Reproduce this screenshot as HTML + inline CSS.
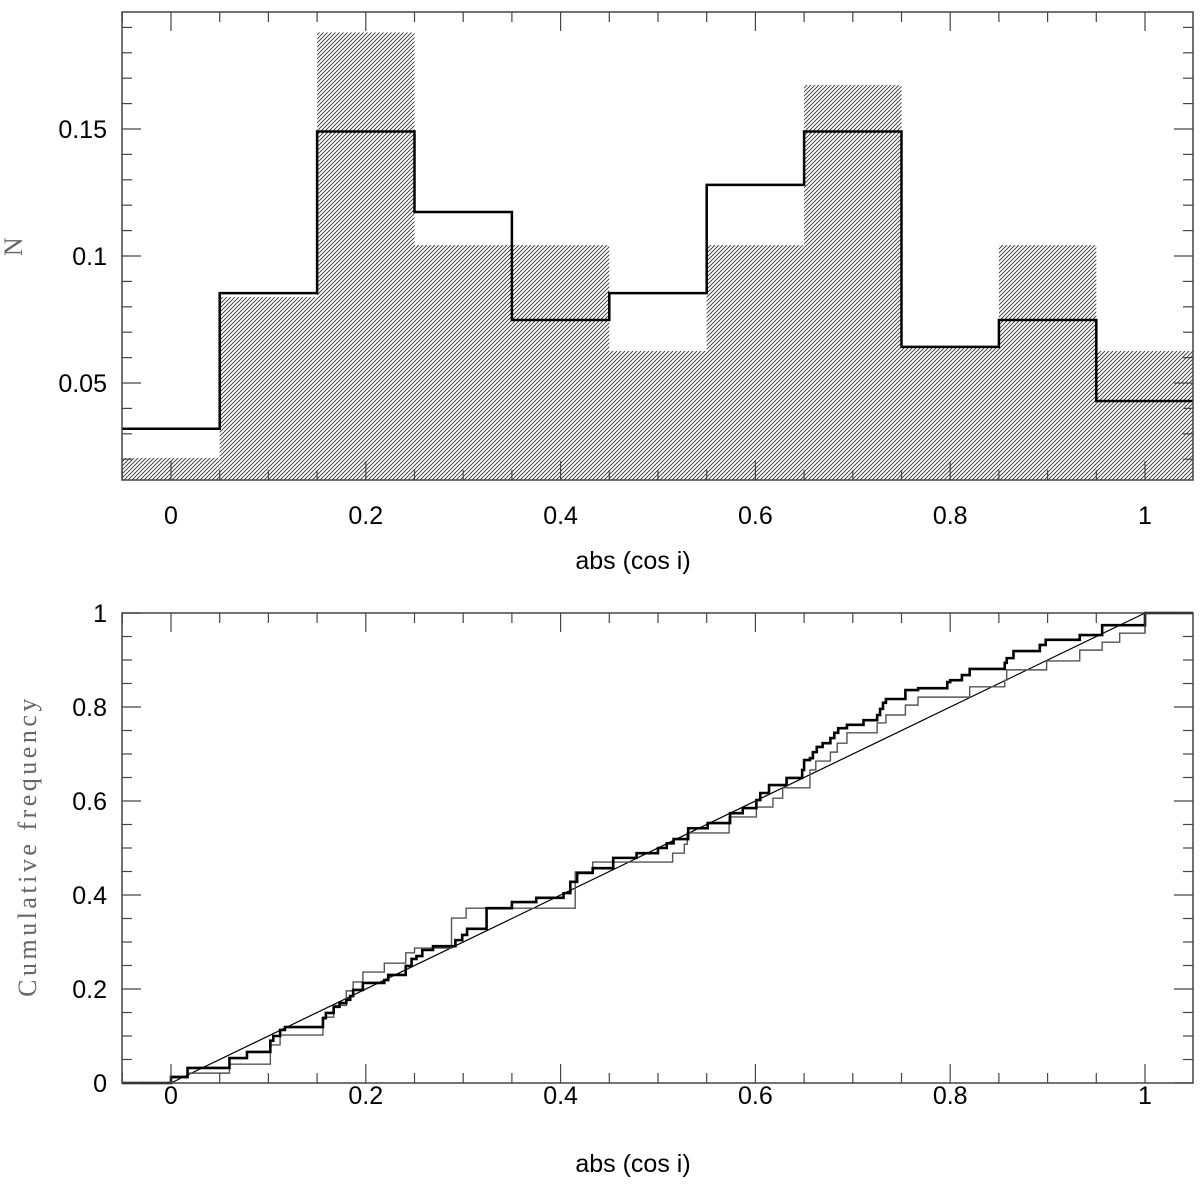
<!DOCTYPE html>
<html><head><meta charset="utf-8"><style>
html,body{margin:0;padding:0;background:#fff;width:1200px;height:1184px;overflow:hidden}
svg{display:block}
text{font-family:"Liberation Sans",sans-serif;font-size:25px;fill:#000}
.serif{font-family:"Liberation Serif",serif;fill:#666;font-size:26px;letter-spacing:3.5px}
</style></head><body>
<svg id="chart" width="1200" height="1184" xmlns="http://www.w3.org/2000/svg">
<defs><pattern id="hatch" patternUnits="userSpaceOnUse" width="4" height="4">
<path d="M-1,1 l2,-2 M0,4 l4,-4 M3,5 l2,-2" stroke="#333" stroke-width="0.9"/></pattern></defs>
</svg>
<script>
// Histogram data
const binCenters=[0,0.1,0.2,0.3,0.4,0.5,0.6,0.7,0.8,0.9,1.0];
const lineValues=[0.032,0.0854,0.149,0.1173,0.0748,0.0854,0.128,0.149,0.0642,0.0748,0.0429];
const hatchValues=[0.0205,0.0838,0.188,0.1043,0.1043,0.0626,0.1043,0.1673,0.0642,0.1043,0.0626];
const topYTicks=["0.05","0.1","0.15"];
const xTickLabels=["0","0.2","0.4","0.6","0.8","1"];
const botYTicks=["0","0.2","0.4","0.6","0.8","1"];
// Cumulative data
const thickX=[0,0.017,0.060,0.078,0.102,0.105,0.112,0.117,0.156,0.159,0.167,0.173,0.180,0.184,0.187,0.197,0.219,0.223,0.241,0.247,0.252,0.258,0.269,0.292,0.299,0.304,0.324,0.350,0.375,0.403,0.410,0.417,0.433,0.454,0.478,0.500,0.509,0.516,0.531,0.551,0.574,0.587,0.601,0.605,0.614,0.632,0.648,0.650,0.656,0.659,0.663,0.669,0.677,0.681,0.685,0.694,0.711,0.725,0.728,0.731,0.734,0.754,0.767,0.797,0.800,0.812,0.820,0.856,0.858,0.865,0.892,0.898,0.933,0.956,1.0];
const thickY=[0.013,0.032,0.053,0.066,0.090,0.100,0.113,0.119,0.138,0.149,0.162,0.170,0.177,0.185,0.198,0.213,0.219,0.230,0.249,0.264,0.270,0.283,0.291,0.304,0.315,0.328,0.372,0.385,0.394,0.404,0.428,0.447,0.457,0.479,0.489,0.500,0.510,0.519,0.542,0.553,0.574,0.585,0.602,0.617,0.634,0.649,0.666,0.687,0.691,0.704,0.715,0.723,0.734,0.745,0.755,0.762,0.772,0.783,0.796,0.809,0.817,0.836,0.840,0.853,0.857,0.868,0.881,0.894,0.904,0.919,0.932,0.943,0.953,0.974,1.0];
const thinX=[0,0.017,0.060,0.102,0.112,0.156,0.167,0.180,0.187,0.197,0.219,0.241,0.250,0.288,0.303,0.415,0.433,0.515,0.527,0.530,0.573,0.601,0.618,0.628,0.656,0.662,0.677,0.684,0.694,0.725,0.734,0.754,0.767,0.820,0.856,0.858,0.899,0.933,0.956,0.974,1.0];
const thinY=[0.011,0.021,0.040,0.081,0.102,0.140,0.165,0.196,0.215,0.236,0.255,0.277,0.287,0.351,0.372,0.449,0.470,0.489,0.508,0.532,0.566,0.587,0.606,0.628,0.666,0.685,0.704,0.723,0.745,0.766,0.783,0.804,0.821,0.843,0.857,0.879,0.898,0.921,0.938,0.957,1.0];

const svg=document.getElementById('chart');
const NS='http://www.w3.org/2000/svg';
function mk(tag,attrs,parent){const e=document.createElementNS(NS,tag);for(const k in attrs)e.setAttribute(k,attrs[k]);(parent||svg).appendChild(e);return e;}
const L=122,R=1193;
const sx=v=>171+974*v;
const T1=12,B1=480; const sy1=v=>129-(v-0.15)*2540;
const T2=613,B2=1083; const sy2=v=>1083-470*v;

// ---- top panel ----
const g1=mk('g',{});


binCenters.forEach((c,i)=>{
  const x0=Math.max(L,sx(c-0.05)),x1=Math.min(R,sx(c+0.05));
  const r=mk('rect',{x:x0,y:sy1(hatchValues[i]),width:x1-x0,height:B1-sy1(hatchValues[i]),fill:'url(#hatch)'},g1);
  
  
});
let d='';
binCenters.forEach((c,i)=>{
  const x0=Math.max(L,sx(c-0.05)),x1=Math.min(R,sx(c+0.05)),y=sy1(lineValues[i]);
  d+=(i===0?'M':'L')+x0+','+y+' L'+x1+','+y+' ';
});
const hl=mk('path',{d:d,fill:'none',stroke:'#000','stroke-width':2.5},g1);



function frame(T,B,g){
  const f=mk('rect',{x:L,y:T,width:R-L,height:B-T,fill:'none',stroke:'#444','stroke-width':1.5},g);
  
  
  for(let k=-1;k<=21;k++){const v=k*0.05,x=sx(v);if(x<L||x>R)continue;
    const len=(k%4===0)?19:10;
    mk('line',{x1:x,x2:x,y1:T,y2:T+len,stroke:'#444','stroke-width':1.2},g);
    mk('line',{x1:x,x2:x,y1:B,y2:B-len,stroke:'#444','stroke-width':1.2},g);}
}
frame(T1,B1,g1);
for(let k=1;k<=19;k++){const v=k*0.01,y=sy1(v);if(y<T1||y>B1)continue;
  const len=(k%5===0)?19:10;
  mk('line',{x1:L,x2:L+len,y1:y,y2:y,stroke:'#444','stroke-width':1.2},g1);
  mk('line',{x1:R,x2:R-len,y1:y,y2:y,stroke:'#444','stroke-width':1.2},g1);}
topYTicks.forEach(t=>{const e=mk('text',{x:107,y:sy1(parseFloat(t))+9,'text-anchor':'end'},g1);e.textContent=t;
  });
xTickLabels.forEach(t=>{const e=mk('text',{x:sx(parseFloat(t)),y:524,'text-anchor':'middle'},g1);e.textContent=t;
  });
let e=mk('text',{x:633,y:569,'text-anchor':'middle'},g1);e.textContent='abs (cos i)';

e=mk('text',{x:22,y:245,'text-anchor':'middle',class:'serif',transform:'rotate(-90 22 245)'},g1);e.textContent='N';


// ---- bottom panel ----
const g2=mk('g',{});


const diag=mk('line',{x1:sx(0),y1:sy2(0),x2:sx(1),y2:sy2(1),stroke:'#000','stroke-width':1.2},g2);


function stepPath(xs,ys){let p='M'+L+','+sy2(0)+' L'+sx(xs[0])+','+sy2(0);let prev=0;
  xs.forEach((x,i)=>{p+=' L'+sx(x)+','+sy2(prev)+' L'+sx(x)+','+sy2(ys[i]);prev=ys[i];});
  p+=' L'+R+','+sy2(prev);return p;}
const thin=mk('path',{d:stepPath(thinX,thinY),fill:'none',stroke:'#555','stroke-width':1.4},g2);


const thick=mk('path',{d:stepPath(thickX,thickY),fill:'none',stroke:'#000','stroke-width':2.6},g2);


frame(T2,B2,g2);
for(let k=0;k<=20;k++){const v=k*0.05,y=sy2(v);
  const len=(k%4===0)?19:10;
  mk('line',{x1:L,x2:L+len,y1:y,y2:y,stroke:'#444','stroke-width':1.2},g2);
  mk('line',{x1:R,x2:R-len,y1:y,y2:y,stroke:'#444','stroke-width':1.2},g2);}
botYTicks.forEach(t=>{const e=mk('text',{x:107,y:sy2(parseFloat(t))+9,'text-anchor':'end'},g2);e.textContent=t;
  });
xTickLabels.forEach(t=>{const e=mk('text',{x:sx(parseFloat(t)),y:1104,'text-anchor':'middle'},g2);e.textContent=t;
  });
e=mk('text',{x:633,y:1172,'text-anchor':'middle'},g2);e.textContent='abs (cos i)';

e=mk('text',{x:36,y:846,'text-anchor':'middle',class:'serif',transform:'rotate(-90 36 846)'},g2);e.textContent='Cumulative frequency';

</script>
</body></html>
